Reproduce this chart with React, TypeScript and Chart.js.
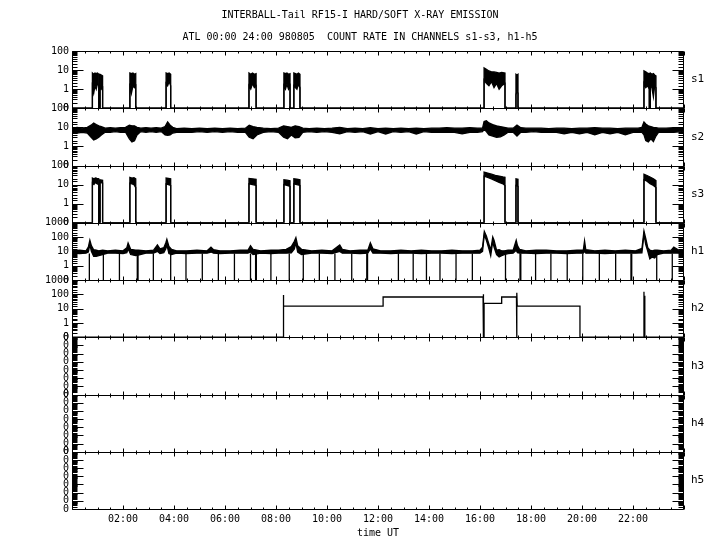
import React, { useEffect, useRef } from 'react';
import { Chart, registerables } from 'chart.js';

Chart.register(...registerables);

const FONT = 'DejaVu Sans Mono';
const TITLE = 'INTERBALL-Tail RF15-I HARD/SOFT X-RAY EMISSION';
const SUBTITLE = 'ATL 00:00 24:00 980805  COUNT RATE IN CHANNELS s1-s3, h1-h5';
const X_TITLE = 'time UT';

const CHANNELS = ['s1', 's2', 's3', 'h1', 'h2', 'h3', 'h4', 'h5'];
const CHANNEL_MIN = [0.1, 0.1, 0.1, 0.1, 0.1, 1e-7, 1e-7, 1e-7];
const CHANNEL_MAX = [100, 100, 100, 1000, 1000, 1, 1, 1];

const X_TICK_HOURS = [0, 2, 4, 6, 8, 10, 12, 14, 16, 18, 20, 22, 24];
const X_TICK_LABELS = ['', '02:00', '04:00', '06:00', '08:00', '10:00', '12:00', '14:00', '16:00', '18:00', '20:00', '22:00', ''];

// [hour, upper envelope, lower envelope]
const S1_BAND: number[][] = [
  [0, 0.1, 0.1],
  [0.80, 0.1, 0.1], [0.80, 7, 1.2], [0.85, 6, 0.6], [0.90, 7, 1.5], [0.95, 6.5, 1.0], [1.00, 7, 2], [1.05, 6, 1.5], [1.05, 0.1, 0.1],
  [1.10, 0.1, 0.1], [1.10, 6, 1.5], [1.15, 5.5, 1], [1.20, 5, 1.2], [1.20, 0.1, 0.1],
  [2.27, 0.1, 0.1], [2.27, 7, 2], [2.33, 6.5, 0.6], [2.39, 7, 1.5], [2.45, 6, 1.2], [2.50, 6.5, 1.5], [2.50, 0.1, 0.1],
  [3.69, 0.1, 0.1], [3.69, 7, 2], [3.75, 6.5, 1.5], [3.81, 7, 2.5], [3.87, 6, 1.5], [3.87, 0.1, 0.1],
  [6.94, 0.1, 0.1], [6.94, 7, 1.5], [7.01, 6, 1], [7.08, 7, 2], [7.15, 6, 1.2], [7.22, 6.5, 1.5], [7.22, 0.1, 0.1],
  [8.31, 0.1, 0.1], [8.31, 7, 1.5], [8.37, 6.5, 1], [8.43, 7, 1.8], [8.49, 6, 1], [8.55, 6.5, 1.5], [8.55, 0.1, 0.1],
  [8.70, 0.1, 0.1], [8.70, 7, 1.5], [8.76, 6.5, 1.2], [8.82, 6, 1], [8.88, 7, 1.8], [8.94, 6, 1.2], [8.94, 0.1, 0.1],
  [16.16, 0.1, 0.1], [16.16, 13, 3], [16.25, 11, 2], [16.35, 9, 1.5], [16.45, 8, 2.5], [16.55, 8, 1.2], [16.65, 7.5, 2], [16.75, 7, 1], [16.85, 7.5, 1.5], [16.98, 7, 2], [16.98, 0.1, 0.1],
  [17.41, 0.1, 0.1], [17.41, 6, 0.5], [17.45, 5.5, 0.8], [17.49, 6, 0.6], [17.49, 0.1, 0.1],
  [22.43, 0.1, 0.1], [22.43, 9, 2], [22.50, 8, 1.2], [22.57, 7, 1.5], [22.64, 6.5, 1], [22.64, 0.1, 0.1], [22.68, 0.1, 0.1], [22.68, 7, 1.5], [22.74, 6, 1.2], [22.80, 6.5, 0.4], [22.85, 5.5, 1.5], [22.90, 5, 1.2], [22.90, 0.1, 0.1],
  [24, 0.1, 0.1],
];

const S2_BAND: number[][] = [
  [0, 9, 5.5], [0.2, 10, 5], [0.4, 9, 5.5], [0.6, 10, 5], [0.75, 13, 3], [0.85, 17, 2.2], [0.95, 14, 2.5], [1.05, 12, 3], [1.15, 11, 4],
  [1.3, 9, 5.5], [1.5, 9.5, 5.5], [1.7, 9, 6], [1.9, 9.5, 5.5], [2.1, 10, 5.5], [2.25, 13, 2.5], [2.35, 12, 1.7], [2.45, 12, 2], [2.55, 10, 4],
  [2.7, 9, 6], [2.9, 9.5, 5.5], [3.1, 9, 6], [3.3, 9.5, 5.5], [3.5, 9, 6], [3.65, 11, 4], [3.75, 19, 3.8], [3.85, 13, 4], [3.95, 10, 5],
  [4.1, 8.5, 5.5], [4.4, 9, 5.5], [4.7, 8.5, 5.5], [5.0, 9, 6], [5.3, 8.5, 5.5], [5.6, 9, 6], [5.9, 8.5, 5.5], [6.2, 9, 6], [6.5, 8.5, 5.5],
  [6.8, 9, 5.5], [6.95, 13, 3], [7.1, 11, 2.5], [7.25, 10, 4], [7.5, 9, 5.5], [7.8, 8.5, 6], [8.1, 9, 5.5], [8.3, 12, 3], [8.45, 11, 2.5],
  [8.6, 10, 4], [8.75, 12, 2.8], [8.9, 11, 3], [9.05, 9, 5.5], [9.3, 8.5, 6], [9.6, 9, 5.5], [9.9, 8.5, 6], [10.2, 9, 5.5], [10.5, 10, 4.5],
  [10.8, 8.5, 6], [11.1, 9, 5.5], [11.4, 8.5, 6], [11.7, 9.5, 4.5], [12.0, 8.5, 6], [12.3, 9, 4.5], [12.6, 8.5, 6], [12.9, 9, 5.5],
  [13.2, 8.5, 6], [13.5, 9, 4.5], [13.8, 8.5, 6], [14.1, 9, 5.5], [14.4, 9, 5.5], [14.7, 9.5, 5.5], [15.0, 9, 5.5], [15.3, 9, 4.5],
  [15.6, 9.5, 5.5], [15.9, 9, 5.5], [16.1, 9, 6], [16.16, 20, 8], [16.25, 22, 6], [16.35, 17, 4], [16.5, 14, 3.5], [16.65, 12, 3],
  [16.8, 11, 3.2], [16.95, 10, 4], [17.1, 9, 5.5], [17.3, 9, 5.5], [17.45, 13, 3.5], [17.6, 9.5, 5.5], [17.8, 9, 5.5], [18.1, 9, 6],
  [18.4, 9, 5.5], [18.7, 8.5, 5.5], [19.0, 9, 5.5], [19.3, 9, 4.5], [19.6, 8.5, 5.5], [19.9, 9, 4.5], [20.2, 9, 5.5], [20.5, 9.5, 4],
  [20.8, 9, 5.5], [21.1, 9, 4.5], [21.4, 8.5, 5.5], [21.7, 9, 4], [22.0, 9, 5.5], [22.2, 9, 5.5], [22.35, 10, 5.5], [22.43, 19, 4],
  [22.5, 15, 2], [22.6, 12, 1.7], [22.7, 11, 2.5], [22.8, 10, 1.8], [22.9, 9.5, 3.5], [23.0, 9, 5.5], [23.3, 9, 5.5], [23.6, 9.5, 5.5],
  [23.9, 9, 6], [24, 9, 5.5],
];

const S3_BAND: number[][] = [
  [0, 0.1, 0.1],
  [0.80, 0.1, 0.1], [0.80, 22, 12], [0.86, 20, 10], [0.92, 22, 13], [0.98, 21, 11], [1.05, 20, 10], [1.05, 0.1, 0.1],
  [1.10, 0.1, 0.1], [1.10, 18, 13], [1.20, 17, 12], [1.20, 0.1, 0.1],
  [2.27, 0.1, 0.1], [2.27, 24, 12], [2.35, 22, 11], [2.43, 23, 10], [2.50, 20, 7], [2.50, 0.1, 0.1],
  [3.69, 0.1, 0.1], [3.69, 22, 11], [3.78, 21, 10], [3.87, 20, 9], [3.87, 0.1, 0.1],
  [6.94, 0.1, 0.1], [6.94, 21, 11], [7.08, 20, 10], [7.22, 19, 9], [7.22, 0.1, 0.1],
  [8.31, 0.1, 0.1], [8.31, 18, 10], [8.43, 17, 9], [8.55, 16, 8], [8.55, 0.1, 0.1],
  [8.70, 0.1, 0.1], [8.70, 20, 11], [8.82, 19, 10], [8.94, 18, 9], [8.94, 0.1, 0.1],
  [16.16, 0.1, 0.1], [16.16, 45, 28], [16.3, 40, 24], [16.45, 35, 20], [16.6, 30, 16], [16.75, 28, 13], [16.9, 25, 11], [16.98, 24, 9], [16.98, 0.1, 0.1],
  [17.41, 0.1, 0.1], [17.41, 20, 9], [17.49, 19, 8], [17.49, 0.1, 0.1],
  [22.43, 0.1, 0.1], [22.43, 35, 18], [22.55, 30, 15], [22.67, 25, 11], [22.80, 20, 9], [22.90, 16, 7], [22.90, 0.1, 0.1],
  [24, 0.1, 0.1],
];

const H1_BAND: number[][] = [
  [0, 11, 7.5], [0.3, 12, 7], [0.55, 11, 7.5], [0.64, 20, 9], [0.70, 60, 30], [0.76, 25, 10], [0.85, 13, 4.5], [0.95, 12, 4.5], [1.05, 11, 5],
  [1.2, 12, 6], [1.4, 11, 7.5], [1.7, 12, 7.5], [2.0, 11, 7], [2.15, 18, 8], [2.2, 38, 15], [2.3, 14, 6], [2.5, 12, 5], [2.6, 12, 5.5],
  [2.9, 11, 7.5], [3.2, 12, 7.5], [3.35, 28, 10], [3.45, 15, 7], [3.6, 18, 8], [3.68, 40, 15], [3.72, 70, 30], [3.8, 22, 7], [3.9, 14, 6],
  [4.1, 11, 7.5], [4.5, 11, 7], [4.9, 12, 7.5], [5.3, 11, 7.5], [5.45, 20, 9], [5.55, 13, 7.5], [5.8, 11, 7], [6.2, 11, 7.5], [6.6, 12, 7.5],
  [6.9, 12, 7.5], [7.0, 25, 9], [7.1, 14, 6], [7.4, 11, 7.5], [7.8, 12, 7], [8.1, 12, 7.5], [8.4, 14, 7.5], [8.6, 22, 8], [8.72, 50, 15],
  [8.78, 90, 40], [8.85, 25, 9], [9.0, 14, 6], [9.4, 11, 7.5], [9.8, 12, 7.5], [10.2, 11, 7], [10.5, 28, 10], [10.6, 14, 7.5], [10.9, 11, 7.5],
  [11.3, 12, 7], [11.6, 12, 7.5], [11.7, 40, 15], [11.8, 15, 7.5], [12.1, 11, 7.5], [12.5, 11, 7], [12.9, 12, 7.5], [13.3, 11, 7.5],
  [13.7, 12, 7], [14.1, 11, 7.5], [14.5, 11, 7.5], [14.9, 12, 7], [15.3, 11, 7.5], [15.7, 11, 7.5], [16.0, 12, 7.5], [16.1, 20, 10],
  [16.17, 245, 150], [16.25, 120, 60], [16.35, 32, 15], [16.42, 12, 5], [16.5, 100, 50], [16.55, 60, 20], [16.65, 12, 6], [16.75, 13, 4],
  [16.85, 11, 5], [16.95, 11, 6], [17.1, 12, 7], [17.3, 12, 7.5], [17.42, 60, 12], [17.47, 25, 8], [17.55, 14, 7.5], [17.8, 11, 7.5],
  [18.2, 12, 7], [18.6, 12, 7.5], [19.0, 11, 7.5], [19.4, 11, 7], [19.8, 12, 7.5], [20.05, 12, 7.5], [20.1, 55, 10], [20.15, 13, 7.5],
  [20.5, 11, 7.5], [20.9, 12, 7], [21.3, 11, 7.5], [21.7, 12, 7.5], [22.1, 11, 7.5], [22.35, 16, 8], [22.43, 270, 150], [22.5, 80, 30],
  [22.58, 18, 10], [22.66, 12, 3], [22.75, 11, 4], [22.85, 12, 3.5], [22.95, 12, 6], [23.2, 11, 7.5], [23.5, 12, 7.5], [23.6, 20, 8],
  [23.8, 12, 7.5], [24, 11, 7.5],
];

// h1 periodic drop-outs to zero: [hour, level before drop]
const H1_DROPS: number[][] = [
  [0.68, 7], [1.23, 7], [1.86, 7], [2.56, 7], [2.59, 7], [3.19, 7], [3.87, 7], [4.47, 7], [5.11, 7], [5.74, 7], [6.37, 7],
  [7.0, 7], [7.20, 7], [7.23, 7], [7.8, 7], [8.52, 7], [9.07, 7], [9.7, 7], [10.31, 7], [10.97, 7], [11.56, 7], [11.59, 7],
  [12.8, 7], [13.38, 7], [13.9, 7], [14.43, 7], [15.06, 7], [15.70, 7], [17.0, 7], [17.57, 7], [17.60, 7], [18.18, 7],
  [18.78, 7], [19.42, 7], [20.03, 7], [20.68, 7], [21.32, 7], [21.92, 7], [21.95, 7], [22.93, 7], [23.54, 7],
];

// h2 step trace: [hour, count rate]
const H2_STEP: number[][] = [
  [0, 0.1], [8.29, 0.1], [8.29, 90], [8.30, 15], [12.2, 15], [12.2, 65], [16.12, 65], [16.12, 0.1], [16.14, 0.1], [16.14, 100],
  [16.14, 0.1], [16.16, 0.1], [16.16, 23], [16.85, 23], [16.85, 65], [17.43, 65], [17.43, 0.1], [17.45, 0.1], [17.45, 130],
  [17.46, 15], [19.92, 15], [19.92, 0.1], [22.43, 0.1], [22.43, 150], [22.44, 0.1], [22.46, 0.1], [22.46, 80], [22.47, 0.1], [24, 0.1],
];

const isDecade = (v: number) => {
  const l = Math.log10(v);
  return Math.abs(l - Math.round(l)) < 1e-6;
};

const lineBase = {
  borderColor: '#000',
  borderWidth: 1.3,
  pointRadius: 0,
  tension: 0,
  spanGaps: false,
};

const noGrid = { display: false, drawTicks: false, tickLength: 0 };

function bandDatasets(rows: number[][], axis: string) {
  return [
    { ...lineBase, data: rows.map((r) => ({ x: r[0], y: r[1] })), yAxisID: axis, fill: '+1', backgroundColor: '#000' },
    { ...lineBase, data: rows.map((r) => ({ x: r[0], y: r[2] })), yAxisID: axis, fill: false },
  ];
}

const framePlugin = {
  id: 'panelFrames',
  afterDatasetsDraw(chart: any) {
    const { ctx, chartArea } = chart;
    const xs = chart.scales.x;
    const L = Math.round(chartArea.left) + 0.5;
    const R = Math.round(chartArea.right) - 0.5;
    ctx.save();
    ctx.strokeStyle = '#000';
    ctx.lineWidth = 1;
    ctx.beginPath();
    CHANNELS.forEach((_, i) => {
      const ys = chart.scales['y' + i];
      const T = Math.round(ys.top) + 0.5;
      const B = Math.round(ys.bottom) + 0.5;
      ctx.moveTo(L, T);
      ctx.lineTo(R, T);
      ctx.lineTo(R, B);
      ctx.lineTo(L, B);
      ctx.closePath();
      ys.ticks.forEach((t: any) => {
        const p = Math.round(ys.getPixelForValue(t.value)) + 0.5;
        const len = isDecade(t.value) ? 11 : 5;
        ctx.moveTo(L, p);
        ctx.lineTo(L + len, p);
        ctx.moveTo(R, p);
        ctx.lineTo(R - len, p);
      });
      for (let k = 0; k <= 48; k++) {
        const px = Math.round(xs.getPixelForValue(k / 2)) + 0.5;
        const len = k % 4 === 0 ? 4 : 2;
        ctx.moveTo(px, T);
        ctx.lineTo(px, T + len);
        ctx.moveTo(px, B);
        ctx.lineTo(px, B - len);
      }
    });
    ctx.stroke();
    ctx.restore();
  },
};

export default function App() {
  const ref = useRef<HTMLCanvasElement>(null);

  useEffect(() => {
    const font = { family: FONT, size: 10, weight: 'normal' as const };

    const datasets: any[] = [
      ...bandDatasets(S1_BAND, 'y0'),
      ...bandDatasets(S2_BAND, 'y1'),
      ...bandDatasets(S3_BAND, 'y2'),
      ...bandDatasets(H1_BAND, 'y3'),
      {
        ...lineBase,
        yAxisID: 'y3',
        fill: false,
        data: H1_DROPS.flatMap((d) => [
          { x: d[0], y: d[1] },
          { x: d[0], y: 0.1 },
          { x: d[0], y: null },
        ]),
      },
      { ...lineBase, yAxisID: 'y4', fill: false, data: H2_STEP.map((r) => ({ x: r[0], y: r[1] })) },
    ];

    const scales: any = {
      x: {
        type: 'linear',
        position: 'bottom',
        min: 0,
        max: 24,
        grid: noGrid,
        border: { display: false },
        afterBuildTicks: (s: any) => {
          s.ticks = X_TICK_HOURS.map((v) => ({ value: v }));
        },
        afterFit: (s: any) => {
          s.height = 41;
        },
        ticks: {
          autoSkip: false,
          maxRotation: 0,
          padding: 4,
          color: '#000',
          font,
          callback: (_v: any, i: number) => X_TICK_LABELS[i],
        },
        title: { display: true, text: X_TITLE, color: '#000', font, padding: { top: 2, bottom: 11 } },
      },
      names: {
        type: 'linear',
        position: 'right',
        min: 0,
        max: 8,
        grid: noGrid,
        border: { display: false },
        afterBuildTicks: (s: any) => {
          s.ticks = CHANNELS.map((_, i) => ({ value: 7.5 - i }));
        },
        afterFit: (s: any) => {
          s.width = 36;
        },
        ticks: {
          autoSkip: false,
          padding: 7,
          color: '#000',
          font: { family: FONT, size: 11 },
          callback: (_v: any, i: number) => CHANNELS[i],
        },
      },
    };

    CHANNELS.forEach((_, i) => {
      scales['y' + i] = {
        type: 'logarithmic',
        position: 'left',
        stack: 'panels',
        stackWeight: 1,
        weight: 8 - i,
        min: CHANNEL_MIN[i],
        max: CHANNEL_MAX[i],
        grid: noGrid,
        border: { display: false },
        afterFit: (s: any) => {
          s.width = 72;
        },
        ticks: {
          autoSkip: false,
          padding: 3,
          color: '#000',
          font,
          callback: (v: any) => {
            const n = Number(v);
            if (!isDecade(n)) return '';
            if (i >= 5 || n < 1) return '0';
            return String(Math.round(n));
          },
        },
      };
    });

    const chart = new Chart(ref.current as HTMLCanvasElement, {
      type: 'line',
      data: { datasets },
      options: {
        responsive: false,
        animation: false,
        events: [],
        layout: { padding: 0 },
        scales,
        plugins: {
          legend: { display: false },
          tooltip: { enabled: false },
          title: { display: true, text: TITLE, color: '#000', font, padding: { top: 9, bottom: 10 } },
          subtitle: { display: true, text: SUBTITLE, color: '#000', font, padding: { top: 0, bottom: 8 } },
        },
      } as any,
      plugins: [framePlugin],
    });
    return () => chart.destroy();
  }, []);

  return (
    <div style={{ position: 'absolute', left: 0, top: 0, width: 720, height: 550, background: '#fff' }}>
      <canvas ref={ref} width={720} height={550} style={{ display: 'block' }} />
    </div>
  );
}
